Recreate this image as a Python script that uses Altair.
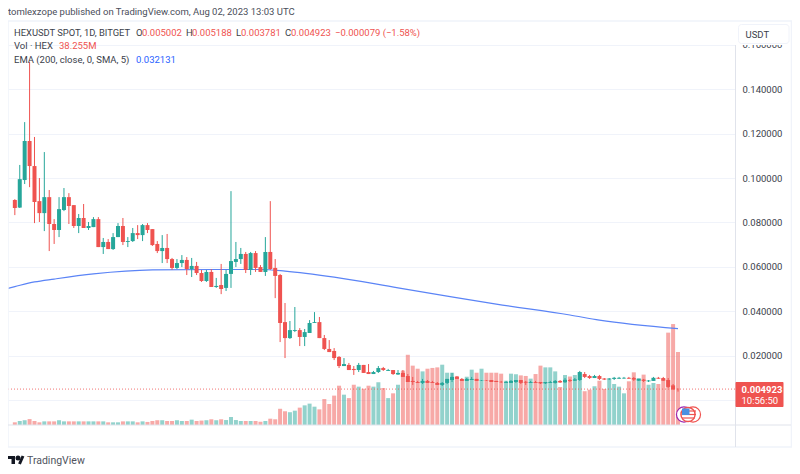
import altair as alt
import pandas as pd

OPEN = [.0901,.0867,.0991,.1167,.1054,.0896,.0842,.0914,.0793,.0766,.0856,.0914,.0878,.0784,.0820,.0775,.0779,.0815,.0689,.0712,
        .0680,.0734,.0784,.0712,.0716,.0752,.0743,.0788,.0770,.0703,.0671,.0685,.0635,.0595,.0617,.0631,.0590,.0604,.0572,.0536,
        .0577,.0509,.0518,.0505,.0568,.0622,.0635,.0658,.0586,.0662,.0599,.0577,.0667,.0595,.0563,.0351,.0279,.0311,.0315,.0284,
        .0302,.0347,.0351,.0279,.0230,.0221,.0194,.0153,.0158,.0140,.0135,.0158,.0126,.0117,.0126,.0144,.0131,.0135,.0115,.0122,
        .0108,.0086,.0081,.0077,.0086,.0081,.0077,.0068,.0077,.0090,.0104,.0095,.0086,.0090,.0095,.0088,.0090,.0090,.0086,.0082,
        .0077,.0077,.0081,.0090,.0082,.0077,.0081,.0081,.0075,.0077,.0077,.0086,.0080,.0090,.0087,.0090,.0117,.0108,.0099,.0108,
        .0097,.0092,.0095,.0096,.0097,.0100,.0099,.0087,.0092,.0084,.0086,.0100,.0099,.0090,.0066,.005002]
HIGH = [.0905,.1059,.1252,.1523,.1185,.1000,.1117,.0946,.0815,.0914,.0955,.0932,.0878,.0838,.0883,.0802,.0824,.0824,.0730,.0725,
        .0752,.0797,.0820,.0734,.0775,.0788,.0793,.0797,.0770,.0716,.0743,.0748,.0640,.0635,.0653,.0644,.0640,.0622,.0586,.0586,
        .0590,.0550,.0613,.0586,.0941,.0712,.0685,.0667,.0667,.0671,.0608,.0734,.0896,.0635,.0568,.0437,.0356,.0419,.0324,.0320,
        .0360,.0396,.0374,.0293,.0270,.0234,.0198,.0189,.0167,.0153,.0167,.0158,.0162,.0131,.0153,.0149,.0140,.0135,.0135,.0135,
        .0117,.0104,.0086,.0095,.0090,.0086,.0081,.0081,.0095,.0122,.0108,.0099,.0099,.0104,.0095,.0090,.0090,.0090,.0086,.0086,
        .0086,.0090,.0090,.0090,.0086,.0086,.0086,.0081,.0081,.0086,.0090,.0090,.0099,.0095,.0099,.0131,.0126,.0113,.0113,.0113,
        .0099,.0099,.0104,.0104,.0104,.0104,.0104,.0095,.0095,.0090,.0104,.0104,.0104,.0099,.0072,.005188]
LOW = [.0833,.0865,.0973,.0959,.0797,.0802,.0761,.0671,.0703,.0734,.0851,.0793,.0775,.0752,.0775,.0766,.0779,.0689,.0658,.0680,
       .0676,.0734,.0698,.0689,.0712,.0725,.0716,.0752,.0694,.0662,.0617,.0617,.0586,.0590,.0599,.0563,.0554,.0563,.0532,.0532,
       .0509,.0505,.0477,.0491,.0505,.0599,.0613,.0572,.0563,.0577,.0577,.0559,.0586,.0459,.0261,.0189,.0275,.0306,.0243,.0243,
       .0302,.0347,.0279,.0225,.0216,.0180,.0144,.0153,.0135,.0113,.0126,.0122,.0117,.0117,.0122,.0131,.0131,.0113,.0113,.0104,
       .0081,.0068,.0077,.0072,.0077,.0077,.0068,.0063,.0072,.0081,.0095,.0086,.0086,.0090,.0086,.0086,.0086,.0081,.0081,.0077,
       .0077,.0077,.0077,.0072,.0068,.0077,.0077,.0072,.0072,.0077,.0074,.0077,.0077,.0081,.0086,.0086,.0099,.0095,.0099,.0090,
       .0090,.0090,.0090,.0095,.0095,.0095,.0086,.0086,.0081,.0081,.0086,.0095,.0086,.0054,.0045,.003781]
CLOSE = [.0865,.0995,.1167,.1054,.0892,.0842,.0914,.0793,.0766,.0860,.0914,.0874,.0784,.0820,.0775,.0784,.0815,.0689,.0712,.0680,
         .0734,.0784,.0712,.0716,.0752,.0743,.0788,.0766,.0698,.0671,.0685,.0635,.0595,.0617,.0631,.0590,.0604,.0572,.0536,.0577,
         .0509,.0514,.0500,.0568,.0626,.0635,.0658,.0586,.0662,.0595,.0577,.0667,.0590,.0559,.0347,.0279,.0315,.0315,.0284,.0306,
         .0347,.0351,.0279,.0230,.0216,.0189,.0153,.0162,.0135,.0135,.0158,.0122,.0117,.0126,.0144,.0135,.0135,.0117,.0122,.0104,
         .0081,.0081,.0077,.0086,.0077,.0077,.0068,.0077,.0095,.0104,.0095,.0086,.0095,.0095,.0086,.0090,.0088,.0081,.0081,.0080,
         .0081,.0086,.0090,.0077,.0078,.0081,.0077,.0075,.0081,.0081,.0086,.0079,.0091,.0086,.0093,.0126,.0104,.0099,.0108,.0095,
         .0092,.0097,.0100,.0100,.0100,.0096,.0092,.0095,.0086,.0088,.0100,.0096,.0087,.0059,.0048,.004923]
VOLUME_M = [1.4,2.1,2.5,3.1,2.1,1.4,1.9,1.9,1.9,2.5,1.9,1.9,1.9,1.9,1.9,1.9,1.9,1.9,1.9,1.4,
            1.4,1.4,1.9,1.9,1.9,1.4,1.9,1.6,2.1,2.5,2.5,2.1,2.1,2.5,2.1,2.1,2.8,2.1,2.3,2.5,
            3.0,2.5,3.0,2.6,4.2,2.6,2.1,2.1,2.1,2.1,1.7,2.1,3.3,3.0,8.5,7.2,6.7,7.5,9.1,10.3,
            11.2,9.6,8.2,13.6,11.0,15.4,20.6,15.9,14.1,21.1,20.1,19.0,20.6,20.1,22.4,19.4,14.1,16.6,21.1,28.5,
            36.8,31.1,29.5,28.1,29.5,29.9,30.2,31.6,27.4,27.4,25.7,23.7,25.3,29.0,27.4,29.5,27.4,27.4,27.4,26.9,
            23.2,26.9,26.6,26.0,25.7,24.3,26.7,31.1,30.2,30.2,28.1,19.9,26.2,25.4,26.2,27.6,17.7,18.5,20.3,23.2,
            18.9,23.7,21.5,20.1,16.6,22.9,27.6,24.6,26.4,21.1,22.0,21.5,24.1,48.4,52.9,38.255]
EMA_DAY = [-2, 0, 4, 8, 16, 28, 41, 50, 55, 65, 78, 88, 98, 113, 119, 135]
EMA = [.0500, .0511, .0532, .0545, .0568, .0586, .0588, .0588, .0581, .0554, .0505, .0468, .0432, .0383, .0360, .032131]
LAST_PRICE = [0.004923]
PRICE_TICKS = [0, .02, .04, .06, .08, .10, .12, .14, .16]

START = pd.Timestamp("2023-03-20")
dates = pd.date_range(START, periods=len(OPEN), freq="D")
df = pd.DataFrame({"date": dates.strftime("%Y-%m-%d"), "open": OPEN, "high": HIGH, "low": LOW,
                   "close": CLOSE, "vol": VOLUME_M})
df["dir"] = ["up" if c >= o else "down" for o, c in zip(OPEN, CLOSE)]
ema_df = pd.DataFrame({"date": [(START + pd.Timedelta(days=d)).strftime("%Y-%m-%d") for d in EMA_DAY], "ema": EMA})

RED, GREEN = "#ef5350", "#26a69a"
GRID, SEP = "#f0f3fa", "#e0e3eb"
FONT = "Roboto"
TXT = "#3a3e4a"


def dt(m, d, h=0):
    return alt.DateTime(year=2023, month=m, date=d, hours=h, utc=True)


x_scale = alt.Scale(type="utc", domain=[dt(3, 19, 15), dt(8, 12, 14)])
X = alt.X("date:T", scale=x_scale, axis=None, title=None)
y_price = alt.Scale(domain=[-0.01126, 0.1703], nice=False, zero=False)
Y_KW = dict(scale=y_price, axis=None, title=None)
color = alt.Color("dir:N", scale=alt.Scale(domain=["up", "down"], range=[GREEN, RED]), legend=None)

x_ticks = [dt(4, 1), dt(4, 17), dt(5, 1), dt(5, 15), dt(6, 1), dt(6, 14), dt(7, 1), dt(7, 17), dt(8, 1)]
base_axes = alt.Chart(df).mark_rule(opacity=0).encode(
    x=alt.X("date:T", scale=x_scale, title=None, axis=alt.Axis(
        values=x_ticks, grid=True, gridColor=GRID, gridWidth=1, domain=False, ticks=False,
        labelExpr="utcdate(datum.value)==1 ? utcFormat(datum.value,'%b') : utcFormat(datum.value,'%-d')",
        labelFont=FONT, labelFontSize=9.5, labelColor="#131722", labelPadding=7, labelOverlap=False,
        labelFlush=False)),
    y=alt.Y("close:Q", scale=y_price, title=None, axis=alt.Axis(
        orient="right", values=PRICE_TICKS, grid=True, gridColor=GRID, gridWidth=1,
        labelExpr="datum.value==0 ? '' : format(datum.value,'.6f')",
        domain=False, ticks=False, labelFont=FONT, labelFontSize=9.5, labelColor="#3a3e4a",
        labelPadding=7, labelBound=False, labelOverlap=False)),
)

volume = alt.Chart(df).mark_bar(size=4, opacity=0.5, orient="vertical").encode(
    x=X,
    y=alt.Y("vol:Q", scale=alt.Scale(domain=[0, 211.2], nice=False), axis=None, title=None),
    color=color,
)
ema_line = alt.Chart(ema_df).mark_line(color="#5b84f6", strokeWidth=1.2, interpolate="monotone", clip=True).encode(
    x=X, y=alt.Y("ema:Q", **Y_KW))
wicks = alt.Chart(df).mark_rule(strokeWidth=1).encode(
    x=X, y=alt.Y("low:Q", **Y_KW), y2="high:Q", color=color)
bodies = alt.Chart(df).mark_bar(size=4, orient="vertical").encode(
    x=X, y=alt.Y("open:Q", **Y_KW), y2="close:Q", color=color)
last_line = alt.Chart(pd.DataFrame({"p": LAST_PRICE})).mark_rule(
    color=RED, strokeWidth=1, strokeDash=[1, 2], opacity=0.8).encode(
    y=alt.Y("p:Q", **Y_KW), x=alt.value(0), x2=alt.value(727))


def text(s, px, py, color=TXT, size=9.5, weight="normal", align="left", font=FONT):
    return alt.Chart(alt.Data(values=[{}])).mark_text(
        text=s, align=align, baseline="middle", color=color, fontSize=size, fontWeight=weight, font=font
    ).encode(x=alt.value(px - 8), y=alt.value(py - 22))


def rect(x1, y1, x2, y2, **kw):
    return alt.Chart(alt.Data(values=[{}])).mark_rect(**kw).encode(
        x=alt.value(x1 - 8), x2=alt.value(x2 - 8), y=alt.value(y1 - 22), y2=alt.value(y2 - 22))


def dot(px, py, size, **kw):
    return alt.Chart(alt.Data(values=[{}])).mark_point(shape="circle", size=size, **kw).encode(
        x=alt.value(px - 8), y=alt.value(py - 22))


def rule(x1, y1, x2, y2, color, width=1):
    return alt.Chart(alt.Data(values=[{}])).mark_rule(color=color, strokeWidth=width).encode(
        x=alt.value(x1 - 8), x2=alt.value(x2 - 8), y=alt.value(y1 - 22), y2=alt.value(y2 - 22))


frame = [
    rect(8, 21, 791.5, 447, fill="transparent", stroke=GRID, strokeWidth=1.5),
    rect(737, 22, 790, 45, fill="white"),
    rect(738.5, 24.5, 789, 43.5, fill="white", stroke=GRID, strokeWidth=1, cornerRadius=3),
    rule(735.5, 45, 735.5, 447, SEP),
    rule(8, 425, 791, 425, SEP),
    text("USDT", 745.5, 34.5, color="#3a3e4a", size=9.5),
]
price_tag = [
    rect(735.5, 382, 783.5, 407, fill=RED, cornerRadius=1),
    text("0.004923", 741.5, 389.5, color="white", size=9.5, weight="bold"),
    text("10:56:50", 741.5, 400.5, color="white", size=9.5),
]
legend = [
    text("HEXUSDT SPOT, 1D, BITGET", 14, 33, size=9.4),
    text("O", 136, 33),
    text("0.005002", 142, 33, color=RED),
    text("H", 186, 33),
    text("0.005188", 192, 33, color=RED),
    text("L", 236, 33),
    text("0.003781", 241, 33, color=RED),
    text("C", 285, 33),
    text("0.004923", 291, 33, color=RED),
    text("−0.000079 (−1.58%)", 335, 33, color=RED),
    text("Vol · HEX", 14, 46),
    text("38.255M", 59, 46, color=RED),
    text("EMA (200, close, 0, SMA, 5)", 14, 60),
    text("0.032131", 136, 60, color="#2962ff"),
]
header = [text("tomlexzope published on TradingView.com, Aug 02, 2023 13:03 UTC", 8, 12, color="#4a4e5a", size=9.5)]
badge = [
    dot(693, 414.5, 227, fill="white", stroke=RED, strokeWidth=1.2, filled=True, opacity=1),
    dot(684, 414.5, 227, fill="white", stroke="#9c27b0", strokeWidth=1.2, filled=True, opacity=1),
    dot(688, 414.5, 200, fill="white", stroke=RED, strokeWidth=1.4, filled=True, opacity=1),
    rule(684, 411, 696, 411, RED, 1.2),
    rule(681.5, 414.5, 696, 414.5, RED, 1.2),
    rule(682, 418, 695, 418, RED, 1.2),
    rect(682, 408.5, 689.5, 415, fill="#4a90e2"),
]
logo = [
    rect(8, 456, 15, 459, fill="#131722"),
    rect(11.5, 456, 15, 464, fill="#131722"),
    dot(18, 458, 9, fill="#131722", filled=True, opacity=1, stroke="#131722"),
    rule(23, 456, 19.5, 464, "#131722", 3),
    text("TradingView", 27, 460.5, color="#50535e", size=10.5),
]

chart = alt.layer(
    base_axes, volume, ema_line, wicks, bodies, last_line,
    *frame, *price_tag, *legend, *header, *badge, *logo,
).resolve_scale(y="independent").properties(
    width=727, height=403,
    padding={"left": 0, "top": 14, "right": 57, "bottom": 41},
    autosize=alt.AutoSizeParams(type="none"),
    background="white",
).configure_view(stroke=None)

chart.save("out.html", embed_options={"renderer": "svg", "actions": False})
